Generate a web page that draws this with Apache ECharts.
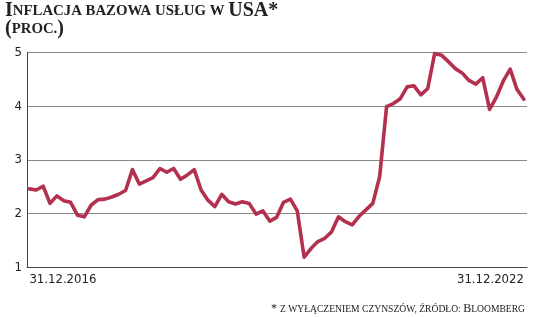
<!DOCTYPE html>
<html>
<head>
<meta charset="utf-8">
<script src="https://cdn.jsdelivr.net/npm/echarts@6/dist/echarts.min.js"></script>
<style>
html,body{margin:0;padding:0;background:#fff;}
#c{width:536px;height:317px;}
</style>
</head>
<body>
<div id="c"></div>
<script>
// Monthly values, 31.12.2016 .. 31.12.2022 (73 points)
const values = [
  2.46, 2.44, 2.51, 2.19, 2.33, 2.24, 2.21, 1.97, 1.94, 2.16, 2.26, 2.27, 2.31,
  2.36, 2.43, 2.82, 2.55, 2.61, 2.67, 2.84, 2.77, 2.84, 2.64, 2.72, 2.82,
  2.44, 2.25, 2.13, 2.36, 2.22, 2.18, 2.22, 2.19, 1.99, 2.05, 1.86, 1.93,
  2.21, 2.27, 2.05, 1.19, 1.35, 1.48, 1.54, 1.66, 1.94, 1.85, 1.79, 1.95,
  2.07, 2.19, 2.69, 3.99, 4.05, 4.14, 4.36, 4.38, 4.21, 4.33, 4.98, 4.95,
  4.83, 4.70, 4.62, 4.48, 4.41, 4.53, 3.94, 4.17, 4.47, 4.69, 4.31, 4.13
];
const tickLabels = ['31.12.2016', '31.12.2022'];
const tickIndex = [0, 72];
const yTicks = [1, 2, 3, 4, 5];
const titleLine1 = 'Inflacja bazowa usług w USA*';
const titleLine2 = '(proc.)';
const footnote = '* z wyłączeniem czynszów, źródło: Bloomberg';

function smallCaps(str) {
  let out = '';
  let cur = null, buf = '';
  for (const ch of str) {
    const isBig = ch !== ch.toLowerCase() || ch === '*' || ch === '(' || ch === ')';
    const t = (ch === ' ' || ch === ',' || ch === ':' || ch === '.') ? (cur || 's') : (isBig ? 'b' : 's');
    if (t !== cur && buf) { out += '{' + cur + '|' + buf + '}'; buf = ''; }
    cur = t;
    buf += ch.toUpperCase();
  }
  if (buf) out += '{' + cur + '|' + buf + '}';
  return out;
}

const SERIF = '"Liberation Serif", serif';
const chart = echarts.init(document.getElementById('c'), null, {renderer: 'canvas'});
const seriesData = values.map((v, i) => [i, v]);

chart.setOption({
  animation: false,
  backgroundColor: '#fff',
  grid: {left: 27, right: 9, top: 52.5, bottom: 49.7, containLabel: false},
  xAxis: {
    type: 'value', min: -0.35, max: 72.45,
    splitLine: {show: false},
    axisTick: {show: false},
    axisLine: {show: true, lineStyle: {color: '#444', width: 1}},
    axisLabel: {
      show: true,
      customValues: tickIndex,
      formatter: v => tickLabels[tickIndex.indexOf(Math.round(v))] || '',
      alignMinLabel: 'left', alignMaxLabel: 'right',
      fontFamily: '"DejaVu Sans Condensed", "DejaVu Sans"', fontSize: 13, color: '#222', margin: 6
    }
  },
  yAxis: {
    type: 'value', min: 1, max: 5, interval: 1,
    axisLine: {show: true, onZero: false, lineStyle: {color: '#444', width: 1}},
    axisTick: {show: false},
    splitLine: {show: true, lineStyle: {color: '#8a8a8a', width: 1}},
    axisLabel: {fontFamily: '"DejaVu Sans Condensed", "DejaVu Sans"', fontSize: 13, color: '#222', margin: 5,
      formatter: v => yTicks.includes(v) ? String(v) : ''}
  },
  series: [{
    type: 'line', data: seriesData, showSymbol: false, symbol: 'none',
    lineStyle: {color: '#b3304f', width: 3.6, join: 'round', cap: 'round'},
    z: 3
  }],
  graphic: [
    {type: 'text', left: 5, top: 1, style: {
      text: smallCaps(titleLine1), 
      rich: {
        b: {fontFamily: SERIF, fontWeight: 'bold', fontSize: 20, fill: '#222'},
        s: {fontFamily: SERIF, fontWeight: 'bold', fontSize: 14.8, fill: '#222'}
      }}},
    {type: 'text', left: 5, top: 19, style: {
      text: smallCaps(titleLine2),
      rich: {
        b: {fontFamily: SERIF, fontWeight: 'bold', fontSize: 20, fill: '#222'},
        s: {fontFamily: SERIF, fontWeight: 'bold', fontSize: 14.8, fill: '#222'}
      }}},
    {type: 'text', right: 11, top: 303, style: {
      text: smallCaps(footnote),
      rich: {
        b: {fontFamily: SERIF, fontSize: 12, fill: '#222'},
        s: {fontFamily: SERIF, fontSize: 9.6, fill: '#222'}
      }}}
  ]
});
</script>
</body>
</html>
